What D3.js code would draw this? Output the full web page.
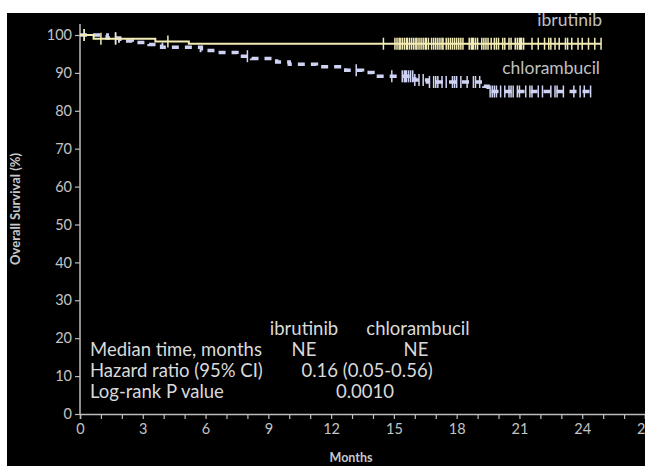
<!DOCTYPE html>
<html><head><meta charset="utf-8">
<script src="https://cdn.jsdelivr.net/npm/d3@7"></script>
<style>html,body{margin:0;padding:0;background:#fff;}svg{display:block;}</style>
</head><body>
<svg id="chart" width="645" height="466"></svg>
<script>
// ---- data ----
const ibrutinibSteps = [[0,100],[0.65,99.0],[3.6,98.3],[5.2,97.7],[24.9,97.7]];
const chlorambucilSteps = [[0,100],[1.3,99.2],[1.9,98.4],[2.5,98.0],[3.3,97.5],[3.9,96.8],[5.8,95.9],[6.5,95.4],[7.5,94.4],[8.2,93.8],[9.4,92.9],[10.0,92.3],[11.3,91.6],[12.7,90.7],[13.5,90.1],[14.0,89.1],[16.0,88.1],[16.6,87.6],[19.3,86.5],[19.5,85.1],[24.4,85.1]];
const ibrutinibCensors = [0.2,1.0,1.7,4.2,14.5,15.05,15.15,15.25,15.3,15.4,15.5,15.6,15.65,15.75,15.85,15.95,16.05,16.1,16.2,16.3,16.4,16.5,16.55,16.65,16.8,16.9,17.0,17.1,17.2,17.3,17.35,17.5,17.6,17.7,17.8,17.9,18.0,18.1,18.2,18.3,18.6,18.7,18.75,18.8,18.9,19.0,19.2,19.3,19.4,19.5,19.65,19.8,19.9,20.0,20.2,20.3,20.5,20.6,20.8,20.9,21.0,21.05,21.1,21.2,21.6,21.9,22.2,22.4,22.5,22.7,22.9,23.2,23.3,23.5,23.8,24.0,24.3,24.6,24.9];
const chlorambucilCensors = [0.2,1.7,8.0,13.2,14.9,15.4,15.5,15.55,15.6,15.7,15.8,15.9,16.0,16.2,16.4,16.7,16.9,17.0,17.1,17.3,17.5,17.8,17.9,18.0,18.2,18.5,18.8,18.9,19.1,19.6,19.7,19.8,19.9,20.1,20.3,20.5,20.6,20.7,20.9,21.0,21.3,21.5,21.6,21.9,22.1,22.5,22.7,22.8,23.1,23.6,23.9,24.1,24.4];
const xTicks = [0,3,6,9,12,15,18,21,24,27];
const yTicks = [0,10,20,30,40,50,60,70,80,90,100];
const tableHeader = ["ibrutinib","chlorambucil"];
const tableRows = [["Median time, months","NE","NE"],["Hazard ratio (95% CI)","0.16 (0.05-0.56)"],["Log-rank P value","0.0010"]];

// ---- drawing ----
const svg = d3.select("#chart");
const font = "Lato, 'Open Sans', sans-serif";
svg.append("rect").attr("x",7).attr("y",13).attr("width",638).attr("height",453).attr("fill","#000");

const x = d3.scaleLinear().domain([0,27]).range([80,645]);
const y = d3.scaleLinear().domain([0,100]).range([414,35]);
const axisCol = "#bdbdbd", tickTxt = "#c4c4c4";

// x axis
const xg = svg.append("g").attr("transform","translate(0,414)")
  .call(d3.axisBottom(x).tickValues(d3.range(0,28)).tickSize(5).tickFormat(d => xTicks.includes(d) ? d : ""));
xg.select(".domain").attr("stroke",axisCol).attr("stroke-width",1.5);
xg.selectAll(".tick line").attr("stroke",axisCol).attr("stroke-width",1.2);
xg.selectAll(".tick text").attr("fill",tickTxt).attr("font-size",14.5).attr("font-family",font).attr("dy","0.85em");

// y axis
const yg = svg.append("g").attr("transform","translate(80,0)")
  .call(d3.axisLeft(y).tickValues(yTicks).tickSize(5).tickSizeOuter(0));
yg.select(".domain").attr("stroke",axisCol).attr("stroke-width",1.5).attr("d","M0,414V24");
yg.selectAll(".tick line").attr("stroke",axisCol).attr("stroke-width",1.2);
yg.selectAll(".tick text").attr("fill",tickTxt).attr("font-size",14.5).attr("font-family",font).attr("x",-8);

// axis titles
svg.append("text").attr("x",351).attr("y",462).attr("text-anchor","middle")
  .attr("font-family",font).attr("font-weight","bold").attr("font-size",12.5).attr("fill","#c8c8c8").text("Months");
svg.append("text").attr("transform","translate(20,209) rotate(-90)").attr("text-anchor","middle")
  .attr("font-family",font).attr("font-weight","bold").attr("font-size",13).attr("fill","#c8c8c8").text("Overall Survival (%)");

// curves
const line = d3.line().x(d=>x(d[0])).y(d=>y(d[1])).curve(d3.curveStepAfter);
const yel = "#f3ecb4", lav = "#cfd3f3";
svg.append("path").datum(chlorambucilSteps).attr("d",line).attr("fill","none")
  .attr("stroke",lav).attr("stroke-width",3.5).attr("stroke-dasharray","7,6");
svg.append("path").datum(ibrutinibSteps).attr("d",line).attr("fill","none")
  .attr("stroke",yel).attr("stroke-width",2);

function survAt(steps,t){let v=steps[0][1];for(const s of steps){if(s[0]<=t)v=s[1];}return v;}
svg.append("g").selectAll("line").data(chlorambucilCensors).join("line")
  .attr("x1",d=>x(d)).attr("x2",d=>x(d))
  .attr("y1",d=>y(survAt(chlorambucilSteps,d))-6).attr("y2",d=>y(survAt(chlorambucilSteps,d))+6)
  .attr("stroke",lav).attr("stroke-width",1.5);
svg.append("g").selectAll("line").data(ibrutinibCensors).join("line")
  .attr("x1",d=>x(d)).attr("x2",d=>x(d))
  .attr("y1",d=>y(survAt(ibrutinibSteps,d))-6).attr("y2",d=>y(survAt(ibrutinibSteps,d))+6)
  .attr("stroke",yel).attr("stroke-width",1.5);

// curve labels
const lblCol = "#c0c0c0";
svg.append("text").attr("x",602).attr("y",26).attr("text-anchor","end").attr("font-family",font)
  .attr("font-size",17.5).attr("fill",lblCol).text("ibrutinib");
svg.append("text").attr("x",600).attr("y",74).attr("text-anchor","end").attr("font-family",font)
  .attr("font-size",17.5).attr("fill",lblCol).text("chlorambucil");

// table
const tCol = "#dadada";
const tg = svg.append("g").attr("font-family",font).attr("font-size",18.5).attr("fill",tCol);
tg.append("text").attr("x",304).attr("y",335).attr("text-anchor","middle").text(tableHeader[0]);
tg.append("text").attr("x",418).attr("y",335).attr("text-anchor","middle").text(tableHeader[1]);
const rowY = [356,377,398];
tableRows.forEach((r,i)=>{
  tg.append("text").attr("x",90).attr("y",rowY[i]).text(r[0]);
  if(r.length===3){
    tg.append("text").attr("x",304).attr("y",rowY[i]).attr("text-anchor","middle").text(r[1]);
    tg.append("text").attr("x",416).attr("y",rowY[i]).attr("text-anchor","middle").text(r[2]);
  } else {
    tg.append("text").attr("x",i===1?367:365).attr("y",rowY[i]).attr("text-anchor","middle").text(r[1]);
  }
});
</script>
</body></html>
